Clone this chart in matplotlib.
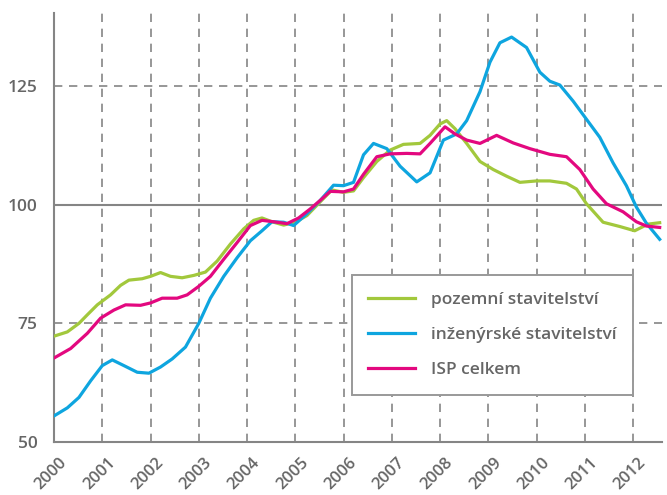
import matplotlib.pyplot as plt
from matplotlib.transforms import ScaledTranslation

# Series (year, index value)
pozemni_x = [2000.0, 2000.276, 2000.517, 2000.69, 2000.897, 2001.172, 2001.379, 2001.552,
             2001.828, 2002.0, 2002.207, 2002.414, 2002.655, 2002.897, 2003.138, 2003.379,
             2003.655, 2003.931, 2004.138, 2004.31, 2004.517, 2004.759, 2005.0, 2005.241,
             2005.517, 2005.759, 2006.0, 2006.207, 2006.414, 2006.69, 2006.966, 2007.241,
             2007.586, 2007.793, 2008.0, 2008.138, 2008.31, 2008.552, 2008.828, 2009.103,
             2009.379, 2009.655, 2010.0, 2010.276, 2010.621, 2010.828, 2011.034, 2011.379,
             2011.724, 2012.034, 2012.31, 2012.552]
pozemni_y = [72.3, 73.2, 75.0, 76.8, 78.9, 81.0, 83.0, 84.1,
             84.4, 84.9, 85.7, 84.9, 84.6, 85.1, 85.8, 88.1,
             91.7, 94.9, 96.7, 97.2, 96.4, 95.7, 96.3, 97.7,
             100.6, 103.1, 102.6, 102.9, 105.7, 109.1, 111.5, 112.7,
             112.9, 114.6, 117.0, 117.7, 116.0, 112.9, 109.1, 107.4,
             106.0, 104.7, 105.0, 105.0, 104.5, 103.3, 100.2, 96.3,
             95.4, 94.5, 95.9, 96.2]

inzenyrske_x = [2000.0, 2000.276, 2000.517, 2000.759, 2001.0, 2001.207, 2001.448, 2001.724,
                2001.966, 2002.207, 2002.448, 2002.724, 2003.0, 2003.241, 2003.517, 2003.793,
                2004.069, 2004.31, 2004.517, 2004.759, 2004.966, 2005.241, 2005.517, 2005.793,
                2006.0, 2006.207, 2006.414, 2006.621, 2006.897, 2007.172, 2007.517, 2007.793,
                2008.069, 2008.345, 2008.552, 2008.828, 2009.034, 2009.241, 2009.483, 2009.793,
                2010.069, 2010.276, 2010.483, 2010.759, 2011.034, 2011.31, 2011.586, 2011.862,
                2012.069, 2012.276, 2012.552]
inzenyrske_y = [55.5, 57.2, 59.4, 62.9, 66.1, 67.3, 66.1, 64.7,
                64.5, 65.8, 67.5, 70.0, 75.0, 80.3, 84.9, 88.8,
                92.4, 94.5, 96.4, 96.3, 95.6, 98.1, 100.9, 104.1,
                104.0, 104.7, 110.5, 112.9, 111.8, 108.1, 104.8, 106.7,
                113.6, 114.9, 117.7, 123.8, 130.0, 134.1, 135.3, 133.1,
                127.9, 126.0, 125.2, 121.8, 118.0, 114.2, 108.8, 104.0,
                99.5, 96.1, 92.7]

isp_x = [2000.0, 2000.345, 2000.69, 2000.966, 2001.241, 2001.483, 2001.793, 2002.0,
         2002.241, 2002.552, 2002.759, 2003.0, 2003.241, 2003.517, 2003.793, 2004.069,
         2004.31, 2004.552, 2004.828, 2005.069, 2005.31, 2005.517, 2005.724, 2006.0,
         2006.207, 2006.414, 2006.69, 2006.966, 2007.31, 2007.586, 2007.793, 2008.103,
         2008.31, 2008.552, 2008.828, 2009.172, 2009.517, 2009.862, 2010.276, 2010.621,
         2010.897, 2011.172, 2011.448, 2011.793, 2012.069, 2012.276, 2012.552]
isp_y = [67.7, 69.7, 72.9, 76.1, 77.8, 78.9, 78.8, 79.3,
         80.3, 80.3, 81.0, 82.8, 84.9, 88.5, 92.0, 95.6,
         96.7, 96.4, 96.0, 97.2, 99.1, 100.9, 102.8, 102.7,
         103.3, 106.4, 110.1, 110.7, 110.8, 110.7, 112.9, 116.4,
         114.9, 113.6, 112.9, 114.6, 113.0, 111.8, 110.6, 110.1,
         107.4, 103.3, 100.2, 98.5, 96.4, 95.5, 95.2]

years = list(range(2000, 2013))
yticks = [50, 75, 100, 125]
labels = ['pozemní stavitelství', 'inženýrské stavitelství', 'ISP celkem']

gray = '#858585'
txt = '#666666'
font = ['Open Sans', 'DejaVu Sans']

fig = plt.figure(figsize=(6.67, 4.95), dpi=100)
ax = fig.add_axes([0.081, 0.107, 0.9115, 0.867])

# grid
for yr in years[1:]:
    ax.axvline(yr, color=gray, lw=1.2, ls=(0, (5, 4)), zorder=1)
for v in [75, 125]:
    ax.axhline(v, color=gray, lw=1.2, ls=(0, (5, 4)), zorder=1)
ax.axhline(100, color=gray, lw=1.5, zorder=1)

ax.plot(pozemni_x, pozemni_y, color='#a2c83c', lw=2.3, label=labels[0], zorder=3)
ax.plot(inzenyrske_x, inzenyrske_y, color='#0ea5df', lw=2.3, label=labels[1], zorder=4)
ax.plot(isp_x, isp_y, color='#e3087f', lw=2.3, label=labels[2], zorder=5)

ax.set_xlim(2000, 2012.6)
ax.set_ylim(50, 140.4)
ax.set_xticks(years)
ax.set_xticklabels([str(y) for y in years], rotation=45, ha='right',
                   rotation_mode='anchor', fontsize=12, color=txt,
                   family=font, fontweight='semibold')
ax.set_yticks(yticks)
ax.set_yticklabels([str(v) for v in yticks], fontsize=12.5, color=txt,
                   family=font, fontweight='semibold')
ax.tick_params(axis='both', length=0)
ax.tick_params(axis='y', pad=12)
ax.tick_params(axis='x', pad=9)
ax.set_yticks([100], minor=True)
ax.tick_params(axis='y', which='minor', length=6, width=1.5, color=gray)

shift = ScaledTranslation(5 / 100, 0, fig.dpi_scale_trans)
for lab in ax.get_xticklabels():
    lab.set_transform(lab.get_transform() + shift)

for s in ['top', 'right']:
    ax.spines[s].set_visible(False)
for s in ['left', 'bottom']:
    ax.spines[s].set_color(gray)
    ax.spines[s].set_linewidth(1.5)

leg = ax.legend(loc='lower left', bbox_to_anchor=(0.49, 0.11), borderaxespad=0,
                fancybox=False, framealpha=1, edgecolor='#999999', handlelength=2.7,
                handletextpad=0.9, labelspacing=1.1, borderpad=0.95,
                prop={'family': font, 'size': 12.5, 'weight': 'semibold'})
leg.get_frame().set_linewidth(1.4)
for t in leg.get_texts():
    t.set_color(txt)

fig.savefig('out.png', dpi=100)
